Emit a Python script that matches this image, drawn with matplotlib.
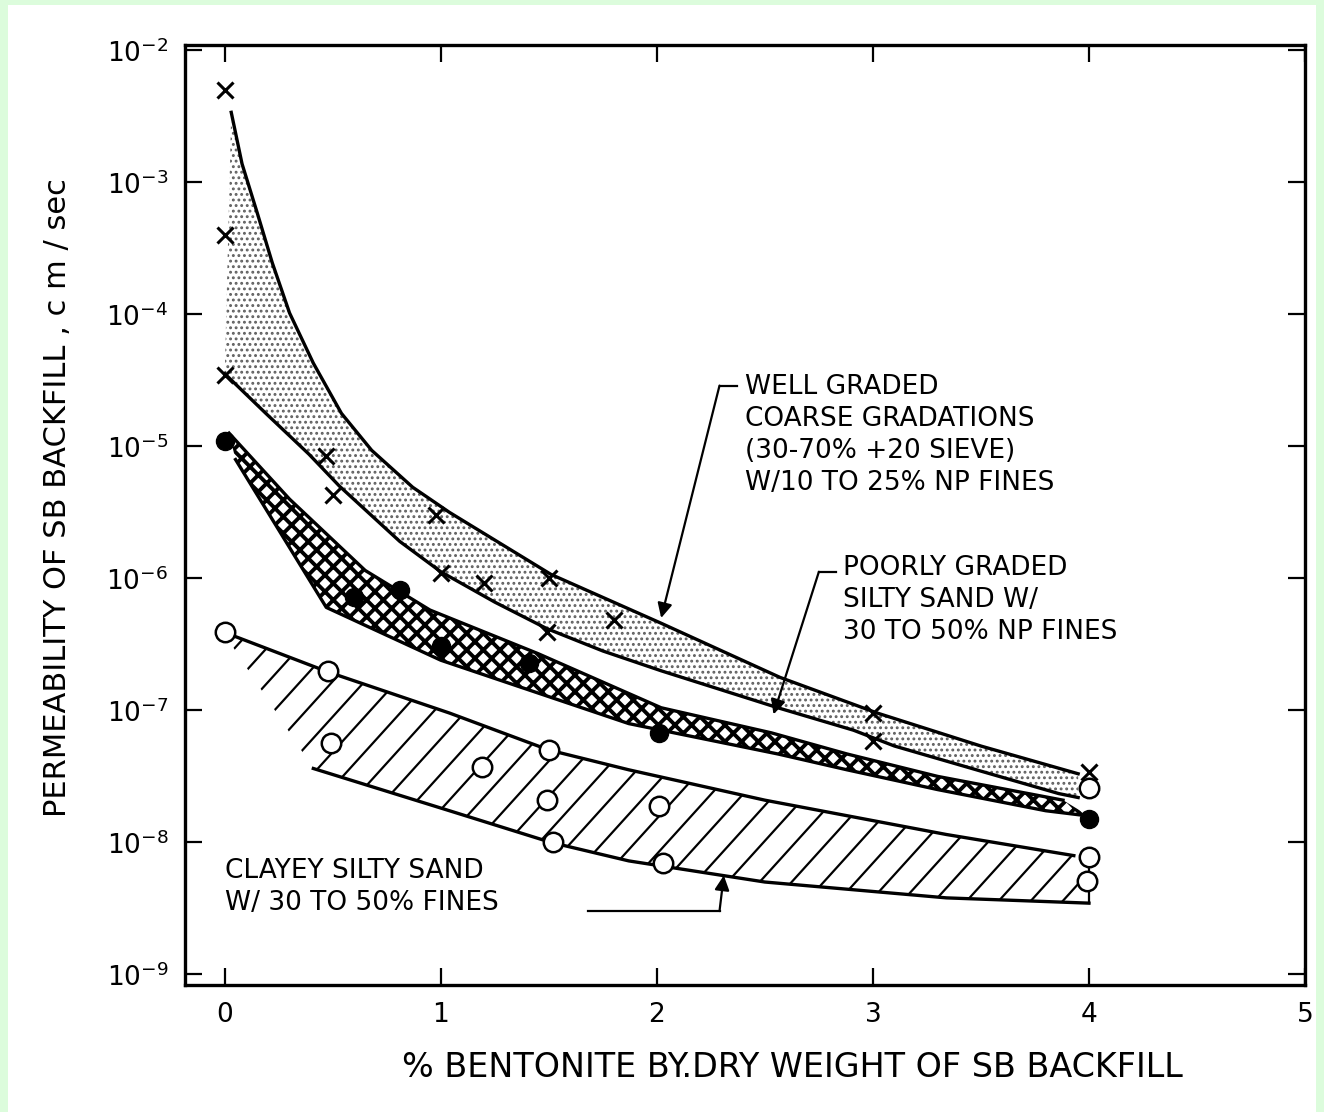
import numpy as np
import matplotlib.pyplot as plt
from matplotlib.patches import Rectangle, Polygon

# measured points (x = % bentonite, k = permeability cm/sec)
well_x = [0, 0, 0, 0.47, 0.5, 0.98, 1.0, 1.2, 1.5, 1.49, 1.8, 3.0, 3.0, 4.0]
well_k = [5e-3, 4e-4, 3.5e-5, 8.5e-6, 4.3e-6, 3e-6, 1.1e-6, 9.3e-7, 1e-6, 3.9e-7,
          4.8e-7, 9.5e-8, 5.9e-8, 3.4e-8]

poor_x = [0, 0.6, 0.81, 1.0, 1.41, 2.01, 4.0]
poor_k = [1.1e-5, 7.2e-7, 8.1e-7, 3.1e-7, 2.3e-7, 6.8e-8, 1.5e-8]

clay_x = [0, 0.48, 0.49, 1.19, 1.5, 1.49, 1.52, 2.01, 2.03, 4.0, 4.0, 3.99]
clay_k = [3.9e-7, 2e-7, 5.7e-8, 3.7e-8, 5e-8, 2.1e-8, 1e-8, 1.9e-8, 7e-9,
          2.6e-8, 7.8e-9, 5.1e-9]

# band limits (log10 of k)
well_up_x = [0.03, 0.08, 0.15, 0.22, 0.30, 0.41, 0.54, 0.68, 0.87, 1.04, 1.51,
             2.02, 2.57, 3.02, 3.5, 3.95]
well_up_log = [-2.47, -2.86, -3.23, -3.61, -3.99, -4.37, -4.75, -5.03, -5.31, -5.5,
               -5.97, -6.34, -6.75, -7.02, -7.27, -7.48]
well_lo_x = [0, 0.19, 0.39, 0.53, 0.81, 1.0, 1.25, 1.49, 1.75, 2.02, 2.56, 2.91, 3.1,
             3.5, 3.86, 3.95]
well_lo_log = [-4.45, -4.75, -5.06, -5.3, -5.72, -5.95, -6.18, -6.38, -6.55, -6.7,
               -6.98, -7.15, -7.27, -7.46, -7.63, -7.66]

poor_up_x = [0.02, 0.3, 0.65, 0.95, 1.45, 2.02, 2.53, 2.88, 3.3, 3.88]
poor_up_log = [-4.9, -5.4, -5.94, -6.24, -6.57, -6.98, -7.17, -7.33, -7.5, -7.68]
poor_lo_x = [0.05, 0.47, 1.0, 1.87, 2.56, 2.88, 3.3, 3.8, 4.0]
poor_lo_log = [-5.1, -6.22, -6.62, -7.1, -7.33, -7.45, -7.6, -7.76, -7.8]

clay_up_x = [0, 0.48, 1.04, 1.5, 1.87, 2.5, 3.34, 3.93]
clay_up_log = [-6.41, -6.71, -7.02, -7.3, -7.45, -7.68, -7.94, -8.1]
clay_lo_x = [0.41, 1.04, 1.51, 1.87, 2.5, 3.34, 4.0]
clay_lo_log = [-7.44, -7.76, -8.0, -8.14, -8.3, -8.42, -8.46]

xticks = [0, 1, 2, 3, 4, 5]
yexp = [-9, -8, -7, -6, -5, -4, -3, -2]
ytick_labels = ['$10^{%d}$' % e for e in yexp]

fig = plt.figure(figsize=(13.24, 11.12), dpi=100, facecolor='#dcfcdc')
fig.patches.append(Rectangle((8 / 1324, 0), 1308 / 1324, 1107 / 1112,
                             transform=fig.transFigure, facecolor='white',
                             edgecolor='none', zorder=-10))
ax = fig.add_axes([185 / 1324, 1 - 985 / 1112, 1120 / 1324, 940 / 1112])
ax.set_yscale('log')
ax.set_xlim(-0.184, 5.0)
ax.set_ylim(10 ** -9.08, 10 ** -1.96)


def band(xu, lu, xl, ll):
    xs = list(xu) + list(xl)[::-1]
    ys = [10.0 ** v for v in list(lu) + list(ll)[::-1]]
    return np.column_stack([xs, ys])


# well graded band, stippled
plt.rcParams['hatch.linewidth'] = 1.3
ax.add_patch(Polygon(band(well_up_x, well_up_log, well_lo_x, well_lo_log),
                     closed=True, facecolor='white', edgecolor='#606060',
                     hatch='...', lw=0, zorder=1))

# poorly graded band, black cross hatch
plt.rcParams['hatch.linewidth'] = 2.8
ax.add_patch(Polygon(band(poor_up_x, poor_up_log, poor_lo_x, poor_lo_log),
                     closed=True, facecolor='white', edgecolor='black',
                     hatch='xx', lw=0, zorder=1))

# clayey band, diagonal lines clipped to the area
clay_area = Polygon(band(clay_up_x, clay_up_log, [0.03] + clay_lo_x + [4.0],
                         [-6.5] + clay_lo_log + [-8.1]),
                    closed=True, facecolor='none', edgecolor='none')
ax.add_patch(clay_area)
for u in np.arange(-0.8, 1.0, 0.0286):
    ln, = ax.plot([u, u + 0.76], [0, 1], transform=ax.transAxes, color='black',
                  lw=1.6, zorder=1)
    ln.set_clip_path(clay_area)

# band outlines
for xs, ls in [(well_up_x, well_up_log), (well_lo_x, well_lo_log),
               (poor_up_x, poor_up_log), (poor_lo_x, poor_lo_log),
               (clay_up_x, clay_up_log), (clay_lo_x, clay_lo_log)]:
    ax.plot(xs, [10.0 ** v for v in ls], color='black', lw=2.4, zorder=2,
            solid_joinstyle='round')
ax.plot([4.0, 4.0], [10 ** -8.1, 10 ** -8.46], color='black', lw=1.6, zorder=2)

# data points
ax.plot(well_x, well_k, ls='none', marker='x', ms=12, mew=2.2, color='black', zorder=4)
ax.plot(poor_x, poor_k, ls='none', marker='o', ms=13, color='black', zorder=4)
ax.plot(clay_x, clay_k, ls='none', marker='o', ms=14, mfc='white', mec='black',
        mew=1.8, zorder=4)

# labels with leader lines
txt = dict(fontsize=19, family='DejaVu Sans', va='top', ha='left', linespacing=1.3)
ax.text(2.41, 10 ** -4.45, 'WELL GRADED\nCOARSE GRADATIONS\n(30-70% +20 SIEVE)\nW/10 TO 25% NP FINES', **txt)
ax.text(2.86, 10 ** -5.82, 'POORLY GRADED\nSILTY SAND W/\n30 TO 50% NP FINES', **txt)
ax.text(0.0, 10 ** -8.12, 'CLAYEY SILTY SAND\nW/ 30 TO 50% FINES', **txt)

arrow = dict(arrowstyle='-|>', color='black', lw=1.6, mutation_scale=22,
             shrinkA=0, shrinkB=0)
ax.plot([2.37, 2.29], [10 ** -4.54, 10 ** -4.54], color='black', lw=1.6)
ax.annotate('', xy=(2.02, 10 ** -6.3), xytext=(2.29, 10 ** -4.54), arrowprops=arrow)
ax.plot([2.83, 2.75], [10 ** -5.95, 10 ** -5.95], color='black', lw=1.6)
ax.annotate('', xy=(2.54, 10 ** -7.03), xytext=(2.75, 10 ** -5.95), arrowprops=arrow)
ax.plot([1.68, 2.29], [10 ** -8.52, 10 ** -8.52], color='black', lw=1.6)
ax.annotate('', xy=(2.31, 10 ** -8.25), xytext=(2.29, 10 ** -8.52), arrowprops=arrow)

# axes styling
ax.set_xticks(xticks)
ax.set_xticklabels([str(t) for t in xticks])
ax.set_yticks([10.0 ** e for e in yexp])
ax.set_yticklabels(ytick_labels)
ax.yaxis.set_minor_locator(plt.NullLocator())
ax.tick_params(direction='in', length=12, width=1.6, labelsize=19, pad=12,
               top=True, right=True)
for s in ax.spines.values():
    s.set_linewidth(2.4)

ax.set_xlabel('% BENTONITE BY.DRY WEIGHT OF SB BACKFILL', fontsize=24)
ax.set_ylabel('PERMEABILITY OF SB BACKFILL , c m / sec', fontsize=22)
ax.xaxis.set_label_coords(0.542, -0.07)
ax.yaxis.set_label_coords(-0.101, 0.519)

fig.savefig('out.png', dpi=100, facecolor=fig.get_facecolor())
